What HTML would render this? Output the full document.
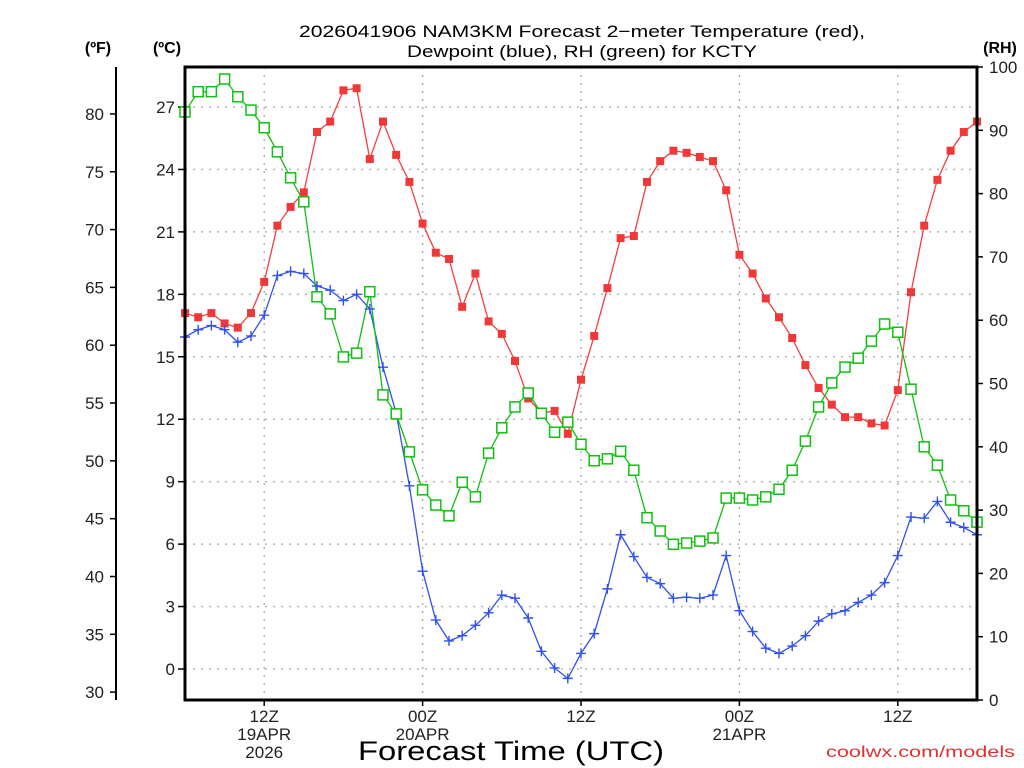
<!DOCTYPE html>
<html><head><meta charset="utf-8"><style>
html,body{margin:0;padding:0;background:#fff;}
svg{display:block;font-family:"Liberation Sans",sans-serif;}
</style></head><body>
<svg id="chart" width="1024" height="768" viewBox="0 0 1024 768" xmlns="http://www.w3.org/2000/svg">
<rect x="0" y="0" width="1024" height="768" fill="#fff"/>
<g font-size="17" fill="#000" text-anchor="middle">
<text x="582" y="37" textLength="566" lengthAdjust="spacingAndGlyphs">2026041906 NAM3KM Forecast 2−meter Temperature (red),</text>
<text x="582" y="57" textLength="350" lengthAdjust="spacingAndGlyphs">Dewpoint (blue), RH (green) for KCTY</text>
</g>
<text x="98" y="53" font-size="16" font-weight="bold" text-anchor="middle">(ºF)</text>
<text x="167" y="53" font-size="16" font-weight="bold" text-anchor="middle">(ºC)</text>
<text x="1000" y="53" font-size="16" font-weight="bold" text-anchor="middle">(RH)</text>
<g id="grid"></g>
<g id="axes"></g>
<g id="series"></g>
<rect x="185" y="67" width="792" height="633" fill="none" stroke="#000" stroke-width="3"/>
<text x="511" y="760" font-size="27" text-anchor="middle" textLength="306" lengthAdjust="spacingAndGlyphs">Forecast Time (UTC)</text>
<text x="1015" y="757" font-size="16" fill="#e03030" text-anchor="end" textLength="189" lengthAdjust="spacingAndGlyphs">coolwx.com/models</text>
</svg>
<script>
const hours = Array.from({length:61},(_,i)=>i);
const tempC = [17.1,16.9,17.1,16.6,16.4,17.1,18.6,21.3,22.2,22.9,25.8,26.3,27.8,27.9,24.5,26.3,24.7,23.4,21.4,20.0,19.7,17.4,19.0,16.7,16.1,14.8,13.0,12.3,12.4,11.3,13.9,16.0,18.3,20.7,20.8,23.4,24.4,24.9,24.8,24.6,24.4,23.0,19.9,19.0,17.8,16.9,15.9,14.6,13.5,12.7,12.1,12.1,11.8,11.7,13.4,18.1,21.3,23.5,24.9,25.8,26.3];
const dewC = [15.95,16.3,16.5,16.3,15.7,16.0,17.0,18.9,19.1,19.0,18.4,18.2,17.7,18.0,17.3,14.5,12.3,8.8,4.7,2.35,1.35,1.6,2.1,2.7,3.55,3.4,2.45,0.85,0.05,-0.45,0.75,1.7,3.85,6.45,5.4,4.4,4.1,3.4,3.45,3.4,3.55,5.45,2.8,1.8,1.0,0.75,1.1,1.6,2.3,2.65,2.8,3.2,3.55,4.15,5.45,7.3,7.25,8.05,7.05,6.8,6.45];
const rh = [92.9,96.1,96.1,98.1,95.3,93.2,90.4,86.6,82.5,78.7,63.7,61.0,54.2,54.8,64.5,48.2,45.2,39.2,33.2,30.8,29.1,34.4,32.1,39.0,43.0,46.3,48.5,45.3,42.3,43.9,40.4,37.8,38.1,39.3,36.3,28.8,26.7,24.6,24.8,25.1,25.6,31.9,31.9,31.6,32.1,33.3,36.3,40.9,46.3,50.1,52.6,54.0,56.7,59.4,58.1,49.1,40.0,37.1,31.6,29.9,28.1];
const cTicks = [0,3,6,9,12,15,18,21,24,27];
const fTicks = [30,35,40,45,50,55,60,65,70,75,80];
const rhTicks = [0,10,20,30,40,50,60,70,80,90,100];
const timeTicks = [6,18,30,42,54];
const timeLabels = [["12Z","19APR","2026"],["00Z","20APR"],["12Z"],["00Z","21APR"],["12Z"]];

const NS="http://www.w3.org/2000/svg";
const X0=185,X1=977,Y0=67,Y1=700;
const xS=h=>X0+(X1-X0)*h/60;
const cS=c=>669-c*(562/27);
const fS=f=>cS((f-32)*5/9);
const rS=r=>Y1-(Y1-Y0)*r/100;
function mk(tag,attrs,parent){const e=document.createElementNS(NS,tag);for(const k in attrs)e.setAttribute(k,attrs[k]);parent.appendChild(e);return e;}
const grid=document.getElementById('grid'),axes=document.getElementById('axes'),ser=document.getElementById('series');

cTicks.forEach(c=>{
  const y=cS(c);
  const g=mk('line',{x1:X0,x2:X1,y1:y,y2:y,stroke:'#aaa','stroke-width':1.3,'stroke-dasharray':'2,6'},grid);
  
  
  const t=mk('line',{x1:X0-7,x2:X0,y1:y,y2:y,stroke:'#000','stroke-width':1.5},axes);
  
  
  const l=mk('text',{x:X0-10,y:y+6,'font-size':17,'text-anchor':'end',fill:'#222'},axes);
  l.textContent=c;
  
  
});
const fl=mk('line',{x1:116,x2:116,y1:Y0,y2:Y1,stroke:'#000','stroke-width':2},axes);


fTicks.forEach(f=>{
  const y=fS(f);
  const t=mk('line',{x1:110,x2:116,y1:y,y2:y,stroke:'#000','stroke-width':1.5},axes);
  
  
  const l=mk('text',{x:104,y:y+6,'font-size':17,'text-anchor':'end',fill:'#222'},axes);
  l.textContent=f;
  
  
});
rhTicks.forEach(r=>{
  const y=rS(r);
  const t=mk('line',{x1:X1,x2:X1+6,y1:y,y2:y,stroke:'#000','stroke-width':1.5},axes);
  
  
  const l=mk('text',{x:X1+12,y:y+6,'font-size':17,'text-anchor':'start',fill:'#222'},axes);
  l.textContent=r;
  
  
});
timeTicks.forEach((h,i)=>{
  const x=xS(h);
  const g=mk('line',{x1:x,x2:x,y1:Y0,y2:Y1,stroke:'#aaa','stroke-width':1.3,'stroke-dasharray':'2,6'},grid);
  
  
  const t=mk('line',{x1:x,x2:x,y1:Y1,y2:Y1+6,stroke:'#000','stroke-width':1.5},axes);
  
  
  timeLabels[i].forEach((s,j)=>{
    const l=mk('text',{x:x,y:722+j*18,'font-size':17,'text-anchor':'middle',fill:'#222'},axes);
    l.textContent=s;
    
    
  });
});

function line(vals,yf,color,name){
  const p=mk('polyline',{points:vals.map((v,i)=>xS(hours[i])+','+yf(v)).join(' '),fill:'none',stroke:color,'stroke-width':1.3},ser);
  
  
}
line(tempC,cS,'#f04040','temperature');
line(dewC,cS,'#3050f0','dewpoint');
line(rh,rS,'#10c010','rh');
tempC.forEach((v,i)=>{
  const m=mk('rect',{x:xS(hours[i])-4,y:cS(v)-4,width:8,height:8,fill:'#f03838'},ser);
  
  
});
dewC.forEach((v,i)=>{
  const x=xS(hours[i]),y=cS(v);
  const m=mk('path',{d:`M${x-5},${y}H${x+5}M${x},${y-5}V${y+5}`,stroke:'#3050f0','stroke-width':1.4,fill:'none'},ser);
  
  
});
rh.forEach((v,i)=>{
  const m=mk('rect',{x:xS(hours[i])-5,y:rS(v)-5,width:10,height:10,fill:'#fff',stroke:'#10c010','stroke-width':1.5},ser);
  
  
});
</script>
</body></html>
